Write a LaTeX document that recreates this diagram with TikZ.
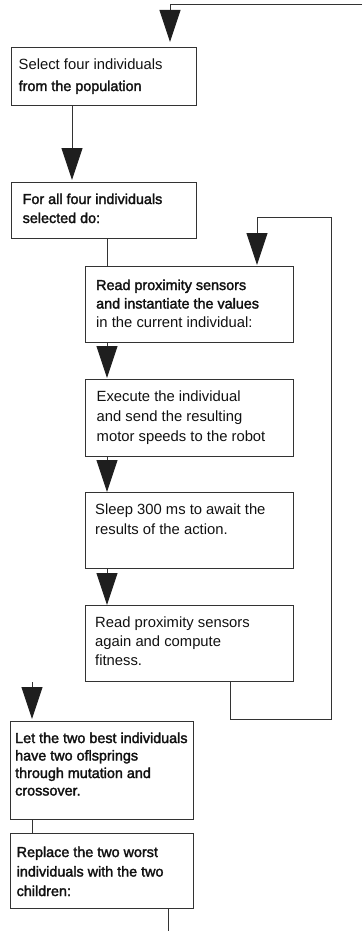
\documentclass[tikz,border=0pt]{standalone}
\usepackage{fontspec}
\setmainfont{Liberation Sans}
\newfontfamily\heavy{Liberation Sans}[FakeBold=2, Scale=0.97]
\usetikzlibrary{arrows.meta}
\definecolor{inkline}{HTML}{333333}
\definecolor{inktip}{HTML}{1E1E1E}
\definecolor{inktext}{HTML}{111111}
\tikzset{
  stepbox/.style={draw=inkline, line width=0.9pt, rectangle, inner sep=0pt,
    anchor=north west, minimum width=#1},
  stepbox/.default=185pt,
  % anchored on the baseline of the last line of each text block
  txt/.style={anchor=base west, inner sep=0pt, align=left, text=inktext,
    font=\fontsize{14.8}{#1}\selectfont},
  txt/.default=19.5,
  flow/.style={draw=inkline, line width=0.9pt,
    -{Triangle[width=21pt,length=32pt,color=inktip]}},
  link/.style={draw=inkline, line width=0.9pt},
}
\begin{document}
\begin{tikzpicture}[x=1pt,y=-1pt]
\useasboundingbox (0,0) rectangle (362,931);

% process boxes
\node[stepbox, minimum height=58pt] (b1) at (11,47) {};
\node[stepbox, minimum height=56pt] (b2) at (11,182) {};
\node[stepbox=208pt, minimum height=76pt] (b3) at (85,266) {};
\node[stepbox=208pt, minimum height=77pt] (b4) at (85,379) {};
\node[stepbox=208pt, minimum height=76pt] (b5) at (85,492) {};
\node[stepbox=208pt, minimum height=76pt] (b6) at (85,605) {};
\node[stepbox=183pt, minimum height=98pt] (b7) at (10,721) {};
\node[stepbox=183pt, minimum height=75pt] (b8) at (10,833) {};

% box texts
\node[txt=21] (t1) at ([shift={(7.5pt,-44pt)}]b1.north west)
  {Select four individuals\\{\heavy from the population}};
\node[txt=19] (t2) at ([shift={(11.5pt,-41pt)}]b2.north west)
  {\heavy For all four individuals\\{\heavy selected do:}};
\node[txt=18.5] (t3) at ([shift={(11pt,-61pt)}]b3.north west)
  {{\heavy Read proximity sensors}\\{\heavy and instantiate the values}\\in the current individual:};
\node[txt=20] (t4) at ([shift={(11.5pt,-62.7pt)}]b4.north west)
  {Execute the individual\\and send the resulting\\motor speeds to the robot};
\node[txt=20] (t5) at ([shift={(10pt,-42pt)}]b5.north west)
  {Sleep 300 ms to await the\\results of the action.};
\node[txt=19] (t6) at ([shift={(10pt,-60pt)}]b6.north west)
  {Read proximity sensors\\again and compute\\fitness.};
\node[txt=17.5] (t7) at ([shift={(5pt,-74.5pt)}]b7.north west)
  {\heavy Let the two best individuals\\{\heavy have two oflsprings}\\{\heavy through mutation and}\\{\heavy crossover.}};
\node[txt=19.5] (t8) at ([shift={(6.5pt,-63pt)}]b8.north west)
  {\heavy Replace the two worst\\{\heavy individuals with the two}\\{\heavy children:}};

% free ends of the outer loop
\coordinate (topin) at (362,4);
\coordinate (in7) at (32,682);
\coordinate (out8) at (168,931);
\coordinate (lb) at (331,719);
\coordinate (lt) at (331,217);

% connectors
\draw[flow, shorten >=5pt] (topin) -| ([xshift=159pt]b1.north west);
\draw[flow, shorten >=2pt] ([xshift=61pt]b1.south west) -- ([xshift=61pt]b2.north west);
\draw[link] ([xshift=96pt]b2.south west) -- ([xshift=22pt]b3.north west);
\draw[flow, shorten >=1pt] ([xshift=22pt]b3.south west) -- ([xshift=22pt]b4.north west);
\draw[flow] ([xshift=22pt]b4.south west) -- ([xshift=22pt]b5.north west);
\draw[flow] ([xshift=22pt]b5.south west) -- ([xshift=22pt]b6.north west);
\draw[flow, shorten >=1pt] ([xshift=145pt]b6.south west) |- (lb) -- (lt)
  -| ([xshift=172pt]b3.north west);
\draw[flow, shorten >=2pt] (in7) -- ([xshift=22pt]b7.north west);
\draw[link] ([xshift=22pt]b7.south west) -- ([xshift=22pt]b8.north west);
\draw[link] ([xshift=158pt]b8.south west) -- (out8);
\end{tikzpicture}
\end{document}
